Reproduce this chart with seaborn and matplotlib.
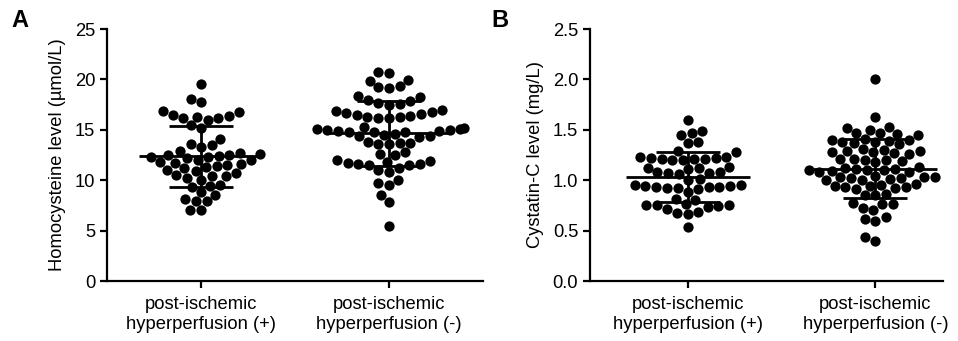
import numpy as np
import pandas as pd
import seaborn as sns
import matplotlib
matplotlib.use("Agg")
import matplotlib.pyplot as plt

categories = ["post-ischemic\nhyperperfusion (+)", "post-ischemic\nhyperperfusion (-)"]

hcy_pos = [19.5, 18.1, 17.8, 16.9, 16.8, 16.5, 16.3, 16.2, 16.2, 16.0, 16.4,
           15.5, 15.2, 14.1, 13.6, 13.5, 13.3,
           12.9, 12.7, 12.6, 12.5, 12.5, 12.4, 12.3, 12.3, 12.2, 12.0,
           12.0, 11.8, 11.7, 11.6, 11.5, 11.4, 11.3, 11.2, 11.0,
           10.9, 10.7, 10.5, 10.4, 10.4, 10.2, 10.0,
           9.5, 9.4, 9.3, 8.8, 8.5, 8.1, 7.9, 7.9, 7.0, 7.0]

hcy_neg = [20.7, 20.6, 19.9, 19.8, 19.3, 19.1, 19.2, 18.4, 18.3,
           18.0, 17.9, 17.7, 17.6, 17.5,
           17.0, 16.9, 16.8, 16.7, 16.6, 16.5, 16.4, 16.3, 16.3, 16.2, 16.2,
           15.3, 15.2, 15.1, 15.1, 15.0, 15.0, 14.9, 14.9, 14.8, 14.8, 14.8,
           14.6, 14.5, 14.4, 14.4, 14.3,
           13.8, 13.7, 13.7, 13.6, 13.6,
           12.8, 12.6, 12.5,
           12.0, 11.9, 11.8, 11.7, 11.6, 11.6, 11.5, 11.5,
           11.2, 11.0, 10.8, 10.0, 9.7, 9.5, 8.5, 7.8, 5.5]

cys_pos = [1.60, 1.49, 1.47, 1.45, 1.38, 1.37, 1.29, 1.28,
           1.23, 1.22, 1.21, 1.21, 1.20, 1.20, 1.22, 1.21, 1.23,
           1.13, 1.12, 1.11, 1.12,
           1.08, 1.07, 1.08, 1.07, 1.06,
           1.01, 1.00,
           0.95, 0.94, 0.93, 0.92, 0.91, 0.93, 0.94, 0.92, 0.95, 0.93,
           0.88, 0.81, 0.80,
           0.75, 0.75, 0.74, 0.76, 0.75, 0.73,
           0.71, 0.67, 0.66, 0.68, 0.54]

cys_neg = [2.00, 1.63, 1.53, 1.52, 1.50, 1.47, 1.46, 1.45, 1.47,
           1.41, 1.40, 1.38, 1.37, 1.39, 1.38, 1.40, 1.36,
           1.31, 1.30, 1.29, 1.28, 1.27, 1.26, 1.28, 1.29,
           1.21, 1.20, 1.19, 1.21, 1.20, 1.18,
           1.13, 1.12, 1.10, 1.11, 1.10, 1.09, 1.08, 1.10, 1.11, 1.08,
           1.04, 1.03, 1.03, 1.01, 1.02, 1.03, 1.02, 1.00, 1.00,
           0.96, 0.94, 0.93, 0.95, 0.92, 0.93, 0.94, 0.91,
           0.86, 0.85, 0.85,
           0.77, 0.76, 0.76, 0.72, 0.70,
           0.63, 0.62, 0.60, 0.44, 0.40]

sns.set_style("ticks")
plt.rcParams["font.family"] = ["Liberation Sans", "DejaVu Sans"]
for k in ["text.color", "axes.labelcolor", "xtick.color", "ytick.color", "axes.edgecolor"]:
    plt.rcParams[k] = "black"

fig = plt.figure(figsize=(9.58, 3.41), dpi=100)
axA = fig.add_axes([107/958, 1-281/341, (483-107)/958, (281-29)/341])
axB = fig.add_axes([590/958, 1-281/341, (943-590)/958, (281-29)/341])


def panel(ax, pos, neg, ylabel, ymax, yticks, fmt):
    df = pd.DataFrame({
        "group": [categories[0]] * len(pos) + [categories[1]] * len(neg),
        "value": list(pos) + list(neg),
    })
    sns.swarmplot(data=df, x="group", y="value", order=categories, ax=ax,
                  color="black", size=7.4, linewidth=0)
    for i, vals in enumerate([pos, neg]):
        m = np.mean(vals)
        s = np.std(vals, ddof=1)
        ax.hlines(m, i - 0.33, i + 0.33, color="black", lw=2, zorder=5)
        ax.hlines([m - s, m + s], i - 0.17, i + 0.17, color="black", lw=2, zorder=5)
        ax.vlines(i, m - s, m + s, color="black", lw=2, zorder=5)
    ax.set_ylim(0, ymax)
    ax.set_yticks(yticks)
    ax.set_yticklabels([fmt.format(t) for t in yticks])
    ax.set_ylabel(ylabel, fontsize=13.2, labelpad=6)
    ax.set_xlabel("")
    ax.tick_params(axis="both", labelsize=13.2, width=1.6, length=5, color="black",
                   labelcolor="black")
    ax.tick_params(axis="x", pad=6)
    for sp in ["left", "bottom"]:
        ax.spines[sp].set_linewidth(1.6)
        ax.spines[sp].set_color("black")
    sns.despine(ax=ax)


panel(axA, hcy_pos, hcy_neg, "Homocysteine level (µmol/L)", 25,
      [0, 5, 10, 15, 20, 25], "{:.0f}")
axA.set_xlim(-0.5, 1.5)
panel(axB, cys_pos, cys_neg, "Cystatin-C level (mg/L)", 2.5,
      [0, 0.5, 1.0, 1.5, 2.0, 2.5], "{:.1f}")
axB.set_xlim(-0.52, 1.36)

fig.text(0.012, 0.92, "A", fontsize=17, fontweight="bold")
fig.text(0.513, 0.92, "B", fontsize=17, fontweight="bold")

fig.savefig("out.png", dpi=100)
